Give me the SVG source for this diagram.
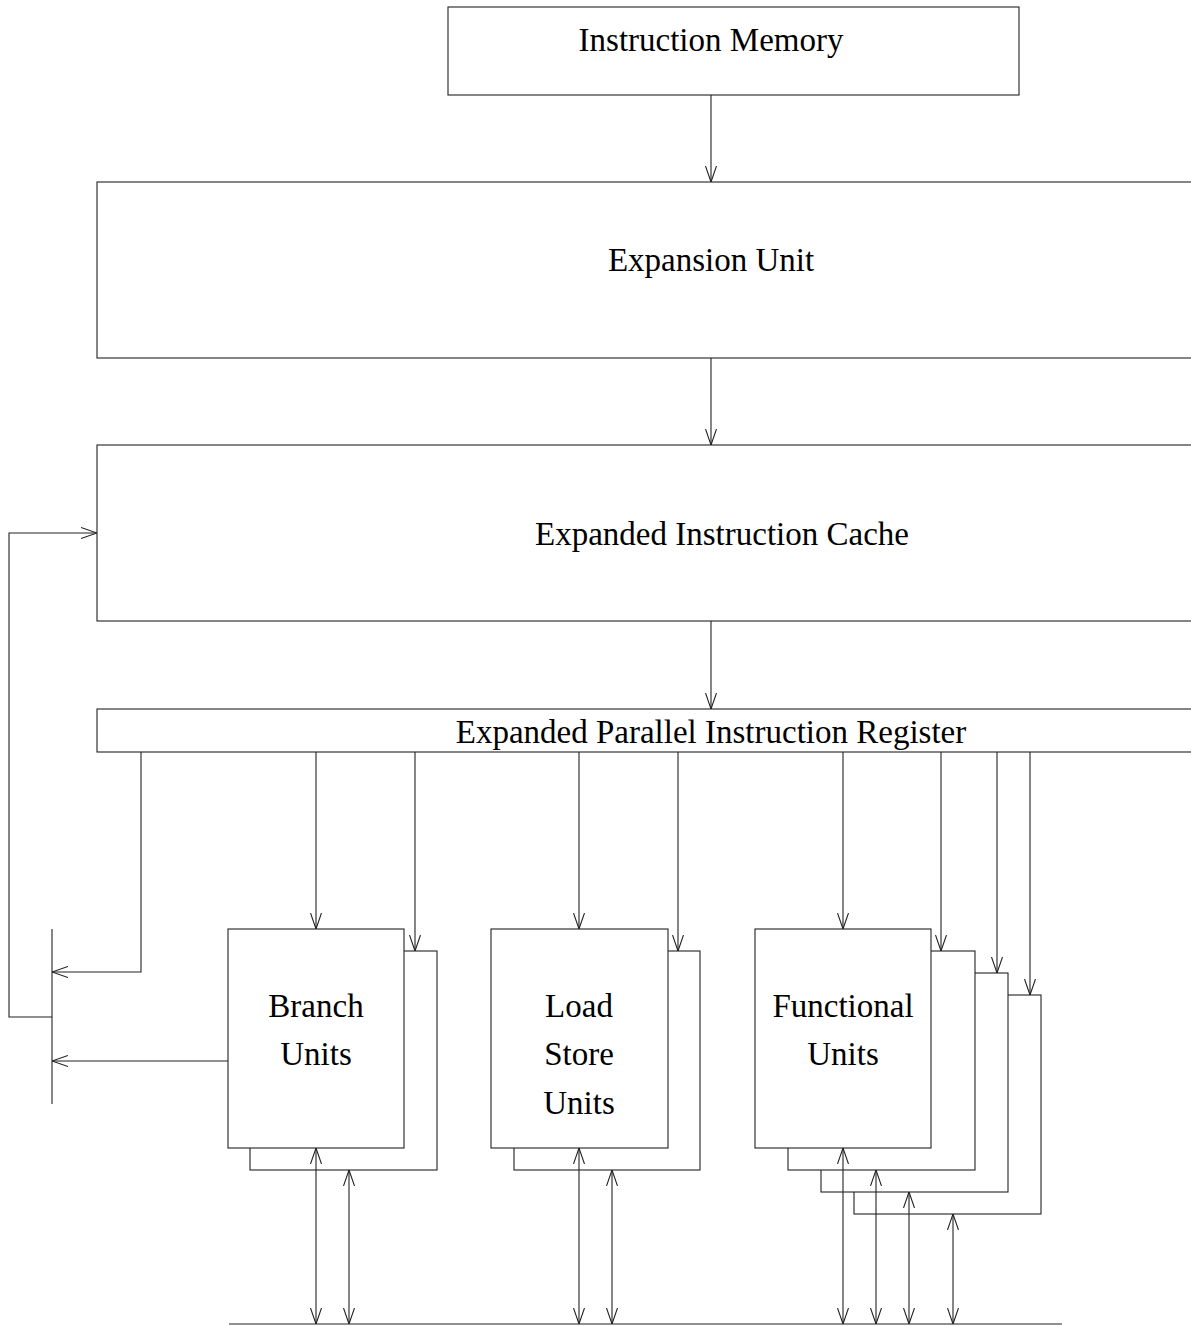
<svg xmlns="http://www.w3.org/2000/svg" width="1191" height="1326" viewBox="0 0 1191 1326">
<style>
.box{fill:#fff;stroke:#222;stroke-width:1.1}
.ln{fill:none;stroke:#222;stroke-width:1.1}
.t{font-family:"Liberation Serif","Times New Roman",serif;font-size:33px;fill:#000;text-anchor:middle}
</style>
<defs>
<marker id="ah" viewBox="0 0 16 12" refX="16" refY="6" markerWidth="16" markerHeight="12" markerUnits="userSpaceOnUse" orient="auto-start-reverse">
<path d="M0,0.5 L16,6 L0,11.5" fill="none" stroke="#222" stroke-width="1.1"/>
</marker>
</defs>
<rect width="1191" height="1326" fill="#fff"/>
<g id="instruction-memory">
<rect class="box" x="448" y="7" width="571" height="88"/>
<text class="t" x="711" y="51">Instruction Memory</text>
</g>
<g id="expansion-unit">
<rect class="box" x="97" y="182" width="1110" height="176"/>
<text class="t" x="711" y="271">Expansion Unit</text>
</g>
<g id="expanded-instruction-cache">
<rect class="box" x="97" y="445" width="1110" height="176"/>
<text class="t" x="722" y="545">Expanded Instruction Cache</text>
</g>
<g id="register">
<rect class="box" x="97" y="709" width="1110" height="43"/>
<text class="t" x="711" y="743">Expanded Parallel Instruction Register</text>
</g>
<g id="branch-units">
<rect class="box" x="250" y="951" width="187" height="219"/>
<rect class="box" x="228" y="929" width="176" height="219"/>
<text class="t" x="316" y="1017">Branch</text>
<text class="t" x="316" y="1065">Units</text>
</g>
<g id="load-store-units">
<rect class="box" x="514" y="951" width="186" height="219"/>
<rect class="box" x="491" y="929" width="177" height="219"/>
<text class="t" x="579" y="1017">Load</text>
<text class="t" x="579" y="1065">Store</text>
<text class="t" x="579" y="1114">Units</text>
</g>
<g id="functional-units">
<rect class="box" x="854" y="995" width="187" height="219"/>
<rect class="box" x="821" y="973" width="187" height="219"/>
<rect class="box" x="788" y="951" width="187" height="219"/>
<rect class="box" x="755" y="929" width="176" height="219"/>
<text class="t" x="843" y="1017">Functional</text>
<text class="t" x="843" y="1065">Units</text>
</g>
<g id="connectors">
<line class="ln" x1="711" y1="95" x2="711" y2="182" marker-end="url(#ah)"/>
<line class="ln" x1="711" y1="358" x2="711" y2="445" marker-end="url(#ah)"/>
<line class="ln" x1="711" y1="621" x2="711" y2="709" marker-end="url(#ah)"/>
<polyline class="ln" points="52,1017 9,1017 9,533 97,533" marker-end="url(#ah)"/>
<polyline class="ln" points="141,752 141,972 52,972" marker-end="url(#ah)"/>
<line class="ln" x1="228" y1="1061" x2="52" y2="1061" marker-end="url(#ah)"/>
<line class="ln" x1="52" y1="929" x2="52" y2="1104"/>
<line class="ln" x1="316" y1="752" x2="316" y2="929" marker-end="url(#ah)"/>
<line class="ln" x1="415" y1="752" x2="415" y2="951" marker-end="url(#ah)"/>
<line class="ln" x1="579" y1="752" x2="579" y2="929" marker-end="url(#ah)"/>
<line class="ln" x1="678" y1="752" x2="678" y2="951" marker-end="url(#ah)"/>
<line class="ln" x1="843" y1="752" x2="843" y2="929" marker-end="url(#ah)"/>
<line class="ln" x1="941" y1="752" x2="941" y2="951" marker-end="url(#ah)"/>
<line class="ln" x1="997" y1="752" x2="997" y2="973" marker-end="url(#ah)"/>
<line class="ln" x1="1030" y1="752" x2="1030" y2="995" marker-end="url(#ah)"/>
<line class="ln" x1="229" y1="1324" x2="1062" y2="1324"/>
<line class="ln" x1="316" y1="1148" x2="316" y2="1324" marker-start="url(#ah)" marker-end="url(#ah)"/>
<line class="ln" x1="349" y1="1170" x2="349" y2="1324" marker-start="url(#ah)" marker-end="url(#ah)"/>
<line class="ln" x1="579" y1="1148" x2="579" y2="1324" marker-start="url(#ah)" marker-end="url(#ah)"/>
<line class="ln" x1="612" y1="1170" x2="612" y2="1324" marker-start="url(#ah)" marker-end="url(#ah)"/>
<line class="ln" x1="843" y1="1148" x2="843" y2="1324" marker-start="url(#ah)" marker-end="url(#ah)"/>
<line class="ln" x1="876" y1="1170" x2="876" y2="1324" marker-start="url(#ah)" marker-end="url(#ah)"/>
<line class="ln" x1="909" y1="1192" x2="909" y2="1324" marker-start="url(#ah)" marker-end="url(#ah)"/>
<line class="ln" x1="953" y1="1214" x2="953" y2="1324" marker-start="url(#ah)" marker-end="url(#ah)"/>
</g>
</svg>
